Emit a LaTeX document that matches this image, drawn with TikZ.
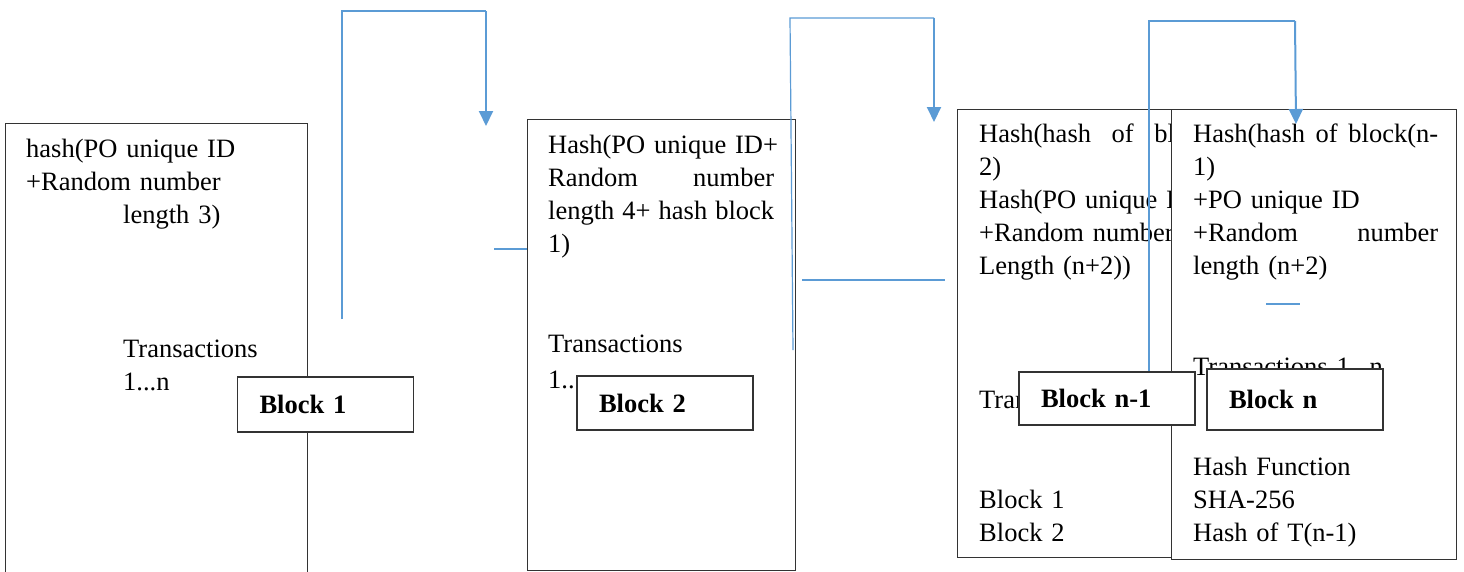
\documentclass[tikz,border=0pt]{standalone}
\usepackage{fontspec}
\setmainfont{Liberation Serif}
\usetikzlibrary{arrows.meta}
\definecolor{linkblue}{RGB}{91,155,213}
\begin{document}
\begin{tikzpicture}[x=1pt,y=-1pt,
  frame/.style={draw=black!80,line width=1.3pt,fill=white,anchor=north west,inner sep=0pt},
  txt/.style={anchor=base west,inner sep=0pt,align=left,font=\fontsize{26.5pt}{33pt}\selectfont},
  blocklabel/.style={draw=black!80,line width=1.3pt,fill=white,inner xsep=22pt,inner ysep=0pt,
    align=left,font=\fontsize{26.5pt}{33pt}\selectfont\bfseries,minimum width=176pt},
  link/.style={draw=linkblue,line width=1.2pt},
  linkarrow/.style={draw=linkblue,line width=2pt,-{Triangle[length=15pt,width=14pt]}}
]
\useasboundingbox (0,0) rectangle (1464,571);
\clip (0,0) rectangle (1464,571);

% Block 1
\node[frame,minimum width=302pt,minimum height=470pt] (b1) at (5,123) {};
\node[txt,text width=260pt] (t1a) at (26,157) {hash(PO unique ID\\+Random number\\\hspace*{97pt}length 3)};
\node[txt,text width=170pt] (t1b) at (123,357) {Transactions\\1...n};

% Block 2
\node[frame,minimum width=268pt,minimum height=451pt] (b2) at (527,119) {};
\node[txt,text width=226pt] (t2a) at (548,153) {\makebox[226pt][l]{Hash(PO unique ID+}\\Random\hfill number\\length\hfill 4+\hfill hash\hfill block\\1)};
\node[txt,text width=200pt,font=\fontsize{26.5pt}{36pt}\selectfont] (t2b) at (548,352) {Transactions\\1...n};

% Block n-1
\node[frame,minimum width=260pt,minimum height=448pt] (bn1) at (957,109) {};
\node[txt,text width=265pt] (tn1a) at (979,142) {Hash(hash\hfill of\hfill block(n-\\2)\\Hash(PO unique ID\\+Random number\\Length (n+2))};
\node[txt,text width=200pt] (tn1b) at (979,408) {Transactions};
\node[txt,text width=150pt] (tn1c) at (979,508) {Block 1\\Block 2};

% Block n
\node[frame,minimum width=285pt,minimum height=450pt] (bn) at (1171,109) {};
\node[txt,text width=245pt] (tna) at (1193,142) {Hash(hash\hfill of\hfill block(n-\\1)\\+PO unique ID\\+Random\hfill number\\length (n+2)};
\node[txt,text width=245pt] (tnb) at (1193,375) {Transactions 1...n};
\node[txt,text width=245pt] (tnc) at (1193,475) {Hash Function\\SHA-256\\Hash of T(n-1)};

% connectors
\coordinate (c1s) at (342,319);
\coordinate (c1k) at (342,11);
\coordinate (c1m) at (486,11);
\coordinate (c1e) at (486,126);
\draw[link] (c1s) -- (c1k) -- (c1m);
\draw[linkarrow] (c1m) -- (c1e);

\coordinate (c2s) at (793,350);
\coordinate (c2k) at (790,18);
\coordinate (c2m) at (934,18);
\coordinate (c2e) at (934,122);
\draw[link] (c2s) -- (c2k) -- (c2m);
\draw[linkarrow] (c2m) -- (c2e);

\coordinate (c3s) at (1149,372);
\coordinate (c3k) at (1149,21);
\coordinate (c3m) at (1295,21);
\coordinate (c3e) at (1296,124);
\draw[link] (c3s) -- (c3k) -- (c3m);
\draw[linkarrow] (c3m) -- (c3e);

\coordinate (s1) at (494,249);
\draw[link] (s1) -- (s1 -| b2.west);
\coordinate (s2a) at (802,280);
\coordinate (s2b) at (945,280);
\draw[link] (s2a) -- (s2b);
\coordinate (s3a) at (1266,304);
\coordinate (s3b) at (1300,304);
\draw[link] (s3a) -- (s3b);

% block labels
\node[blocklabel,text width=132pt,minimum height=55pt] (l1) at (325.5,404.5) {Block 1};
\node[blocklabel,text width=132pt,minimum height=54pt] (l2) at (665,403) {Block 2};
\node[blocklabel,text width=132pt,minimum height=53pt] (ln1) at (1107,398.5) {Block n-1};
\node[blocklabel,text width=132pt,minimum height=61pt] (ln) at (1295,399.5) {Block n};
\end{tikzpicture}
\end{document}
